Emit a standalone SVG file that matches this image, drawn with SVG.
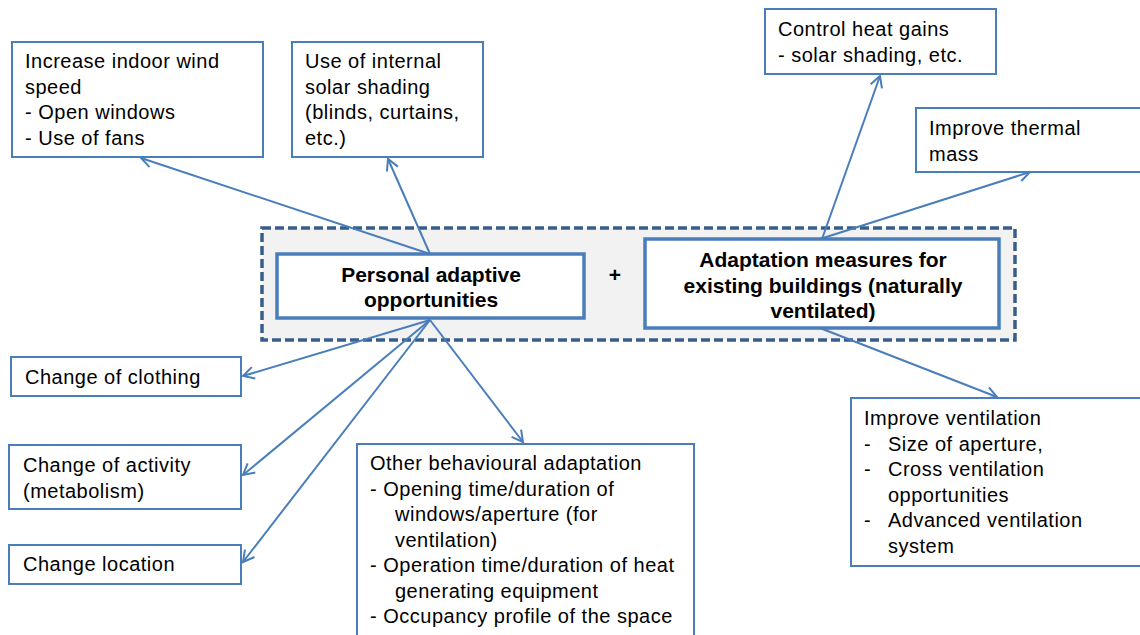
<svg xmlns="http://www.w3.org/2000/svg" width="1140" height="635" viewBox="0 0 1140 635">
<defs>
<style>
.box{fill:#fff;stroke:#4a7ebb;stroke-width:2}
.main{fill:#fff;stroke:#4a7ebb;stroke-width:3.5}
.t{font-family:"Liberation Sans",Arial,sans-serif;font-size:20px;letter-spacing:0.5px;fill:#000}
.b{font-family:"Liberation Sans",Arial,sans-serif;font-size:21px;font-weight:bold;fill:#000;text-anchor:middle}
.c{fill:none;stroke:#4a7ebb;stroke-width:2}
</style>
<marker id="arr" markerUnits="userSpaceOnUse" markerWidth="14" markerHeight="14" viewBox="0 0 14 14" refX="12" refY="7" orient="auto">
<path d="M1,1 L12,7 L1,13" fill="none" stroke="#4a7ebb" stroke-width="2"/>
</marker>
</defs>
<rect width="1140" height="635" fill="#fff"/>
<g id="container">
<rect x="262" y="228" width="753" height="112" fill="#f2f2f2" stroke="#385d8a" stroke-width="3.5" stroke-dasharray="9,4"/>
</g>
<g id="connectors">
<line class="c" x1="430" y1="254" x2="141" y2="158" marker-end="url(#arr)"/>
<line class="c" x1="430" y1="254" x2="388" y2="159" marker-end="url(#arr)"/>
<line class="c" x1="430" y1="320" x2="243" y2="376" marker-end="url(#arr)"/>
<line class="c" x1="430" y1="320" x2="243" y2="475" marker-end="url(#arr)"/>
<line class="c" x1="430" y1="320" x2="243" y2="562" marker-end="url(#arr)"/>
<line class="c" x1="430" y1="320" x2="523" y2="442" marker-end="url(#arr)"/>
<line class="c" x1="822" y1="239" x2="880" y2="76" marker-end="url(#arr)"/>
<line class="c" x1="820" y1="239" x2="1030" y2="172" marker-end="url(#arr)"/>
<line class="c" x1="820" y1="328" x2="997" y2="397" marker-end="url(#arr)"/>
</g>
<g id="personal">
<rect class="main" x="277" y="254" width="307" height="64"/>
<text class="b" x="431" y="282">Personal adaptive</text>
<text class="b" x="431" y="307">opportunities</text>
</g>
<g id="plus">
<text class="b" x="615" y="282">+</text>
</g>
<g id="adaptation">
<rect class="main" x="645" y="239" width="354" height="89"/>
<text class="b" x="823" y="267">Adaptation measures for</text>
<text class="b" x="823" y="293">existing buildings (naturally</text>
<text class="b" x="823" y="318">ventilated)</text>
</g>
<g id="wind">
<rect class="box" x="12" y="42" width="251" height="115"/>
<text class="t" x="25" y="68">Increase indoor wind</text>
<text class="t" x="25" y="93.5">speed</text>
<text class="t" x="25" y="119">- Open windows</text>
<text class="t" x="25" y="144.5">- Use of fans</text>
</g>
<g id="shading">
<rect class="box" x="292" y="42" width="191" height="115"/>
<text class="t" x="305" y="68">Use of internal</text>
<text class="t" x="305" y="93.5">solar shading</text>
<text class="t" x="305" y="119">(blinds, curtains,</text>
<text class="t" x="305" y="144.5">etc.)</text>
</g>
<g id="heatgains">
<rect class="box" x="765" y="9" width="231" height="65"/>
<text class="t" x="778" y="36">Control heat gains</text>
<text class="t" x="778" y="61.5">- solar shading, etc.</text>
</g>
<g id="thermalmass">
<rect class="box" x="916" y="108" width="230" height="64"/>
<text class="t" x="929" y="135">Improve thermal</text>
<text class="t" x="929" y="160.5">mass</text>
</g>
<g id="clothing">
<rect class="box" x="11" y="357" width="230" height="39"/>
<text class="t" x="25" y="384">Change of clothing</text>
</g>
<g id="activity">
<rect class="box" x="9" y="445" width="232" height="64"/>
<text class="t" x="23" y="472">Change of activity</text>
<text class="t" x="23" y="497.5">(metabolism)</text>
</g>
<g id="location">
<rect class="box" x="9" y="545" width="232" height="39"/>
<text class="t" x="23" y="571">Change location</text>
</g>
<g id="behavioural">
<rect class="box" x="357" y="444" width="337" height="200"/>
<text class="t" x="370" y="470">Other behavioural adaptation</text>
<text class="t" x="370" y="495.5">- Opening time/duration of</text>
<text class="t" x="395" y="521">windows/aperture (for</text>
<text class="t" x="395" y="546.5">ventilation)</text>
<text class="t" x="370" y="572">- Operation time/duration of heat</text>
<text class="t" x="395" y="597.5">generating equipment</text>
<text class="t" x="370" y="623">- Occupancy profile of the space</text>
</g>
<g id="ventilation">
<rect class="box" x="851" y="398" width="295" height="168"/>
<text class="t" x="864" y="425">Improve ventilation</text>
<text class="t" x="864" y="450.5">-</text>
<text class="t" x="888" y="450.5">Size of aperture,</text>
<text class="t" x="864" y="476">-</text>
<text class="t" x="888" y="476">Cross ventilation</text>
<text class="t" x="888" y="501.5">opportunities</text>
<text class="t" x="864" y="527">-</text>
<text class="t" x="888" y="527">Advanced ventilation</text>
<text class="t" x="888" y="552.5">system</text>
</g>
</svg>
